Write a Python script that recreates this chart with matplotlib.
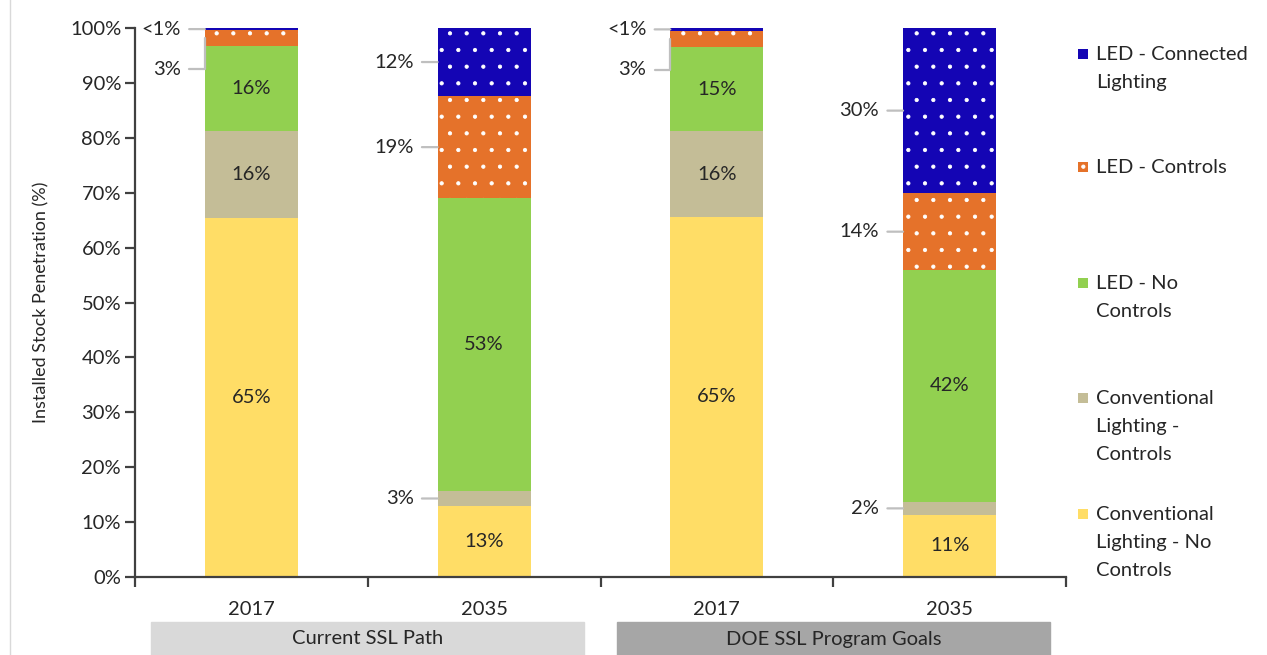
import numpy as np
import matplotlib
matplotlib.use("Agg")
import matplotlib.pyplot as plt
from matplotlib.patches import Rectangle
import matplotlib.transforms as mtransforms

plt.rcParams['font.family'] = ['Lato', 'DejaVu Sans']
plt.rcParams['hatch.linewidth'] = 0.6

# ---------- data ----------
years = ['2017', '2035', '2017', '2035']
groups = ['Current SSL Path', 'DOE SSL Program Goals']
series = ['Conventional Lighting - No Controls', 'Conventional Lighting - Controls',
          'LED - No Controls', 'LED - Controls', 'LED - Connected Lighting']
legend_text = ['Conventional\nLighting - No\nControls', 'Conventional\nLighting -\nControls',
               'LED - No\nControls', 'LED - Controls', 'LED - Connected\nLighting']

conv_no_ctrl = [65.4, 12.9, 65.6, 11.3]
conv_ctrl    = [15.8, 2.8, 15.6, 2.4]
led_no_ctrl  = [15.5, 53.3, 15.3, 42.2]
led_ctrl     = [2.9, 18.6, 3.0, 14.0]
led_conn     = [0.4, 12.4, 0.5, 30.1]

lab_conv_no_ctrl = ['65%', '13%', '65%', '11%']
lab_conv_ctrl    = ['16%', '3%', '16%', '2%']
lab_led_no_ctrl  = ['16%', '53%', '15%', '42%']
lab_led_ctrl     = ['3%', '19%', '3%', '14%']
lab_led_conn     = ['<1%', '12%', '<1%', '30%']

# conventional-controls label sits inside the bar for the 2017 bars only
inside_conv_ctrl = [True, False, True, False]

colors = ['#FFDD66', '#C4BD97', '#92D050', '#E5722A', '#1405B4']
hatches = [None, None, None, '.', '.']

values = [conv_no_ctrl, conv_ctrl, led_no_ctrl, led_ctrl, led_conn]
labels = [lab_conv_no_ctrl, lab_conv_ctrl, lab_led_no_ctrl, lab_led_ctrl, lab_led_conn]

W, H = 1267, 655
fs = 14.5
fig = plt.figure(figsize=(W / 100, H / 100), dpi=100)
ax = fig.add_axes([135 / W, 78 / H, (1066 - 135) / W, (577 - 28) / H])

x = np.arange(len(years))
bw = 0.4
txt_col = '#262626'
lead_col = '#BFBFBF'

bottom = np.zeros(len(years))
for vals, col, hat in zip(values, colors, hatches):
    vals = np.array(vals)
    if hat:
        ax.bar(x, vals, bw, bottom=bottom, color=col, edgecolor='white', linewidth=0,
               hatch=hat, zorder=2)
    else:
        ax.bar(x, vals, bw, bottom=bottom, color=col, linewidth=0, zorder=2)
    bottom += vals

# ---------- data labels ----------
bottom = np.zeros(len(years))
for i, (vals, labs) in enumerate(zip(values, labels)):
    for j in range(len(years)):
        v = vals[j]
        mid = bottom[j] + v / 2
        inside = (i in (0, 2)) or (i == 1 and inside_conv_ctrl[j])
        if inside:
            ax.text(x[j], mid, labs[j], ha='center', va='center', fontsize=fs,
                    color=txt_col, zorder=3)
        else:
            bent = (i == 3 and v < 5)
            dy = -31 if bent else 0
            ax.annotate(labs[j], xy=(x[j] - bw / 2, mid), xytext=(-24, dy),
                        textcoords='offset pixels', ha='right', va='center',
                        fontsize=fs, color=txt_col,
                        arrowprops=dict(arrowstyle='-', color=lead_col, lw=1.6,
                                        shrinkA=4, shrinkB=0,
                                        connectionstyle=('angle,angleA=0,angleB=90,rad=0'
                                                         if bent else 'arc3')))
        bottom[j] += v

# ---------- axes ----------
ax.set_ylim(0, 100)
ax.set_xlim(-0.5, len(years) - 0.5)
ax.set_yticks(np.arange(0, 101, 10))
ax.set_yticklabels([f'{t}%' for t in range(0, 101, 10)])
ax.set_xticks(np.arange(-0.5, len(years), 1.0))
ax.set_xticklabels([])
ax.set_xticks(x, minor=True)
ax.set_xticklabels(years, minor=True)
ax.tick_params(axis='x', which='minor', length=0, pad=17, labelsize=fs, labelcolor=txt_col)
ax.tick_params(axis='x', which='major', length=7, width=1.6, color='#404040', direction='out')
ax.tick_params(axis='y', length=7, width=1.6, color='#404040', labelsize=fs,
               labelcolor=txt_col, pad=3)
for s in ['top', 'right']:
    ax.spines[s].set_visible(False)
for s in ['left', 'bottom']:
    ax.spines[s].set_color('#404040')
    ax.spines[s].set_linewidth(1.6)
ax.set_ylabel('Installed Stock Penetration (%)', fontsize=13, color=txt_col, labelpad=15)

# group boxes under the year labels
trans = mtransforms.blended_transform_factory(ax.transData, fig.transFigure)
box_cols = ['#D9D9D9', '#A6A6A6']
for g, (name, bc) in enumerate(zip(groups, box_cols)):
    cx = 2 * g + 0.5
    ax.add_artist(Rectangle((cx - 0.93, 0), 1.86, 33 / H, transform=trans, color=bc,
                            clip_on=False, zorder=1))
    ax.text(cx, 16 / H, name, transform=trans, ha='center', va='center', fontsize=fs,
            color=txt_col, clip_on=False)

# ---------- legend (manual, Excel style: marker next to first line) ----------
leg_tops = [514, 398, 283, 167, 54]
for lt, col, hat, txt in zip(leg_tops, colors, hatches, legend_text):
    fig.add_artist(Rectangle((1078 / W, (H - lt - 5) / H), 10 / W, 10 / H,
                             transform=fig.transFigure, facecolor=col,
                             edgecolor='white' if hat else col, linewidth=0,
                             hatch=hat))
    fig.text(1096 / W, (H - lt + 8) / H, txt, ha='left', va='top', fontsize=fs,
             color=txt_col, linespacing=1.8)

# thin chart frame on the left
fig.add_artist(plt.Line2D([10 / W, 10 / W], [0, 1], color='#D9D9D9', lw=1))

fig.savefig('out.png', dpi=100)
